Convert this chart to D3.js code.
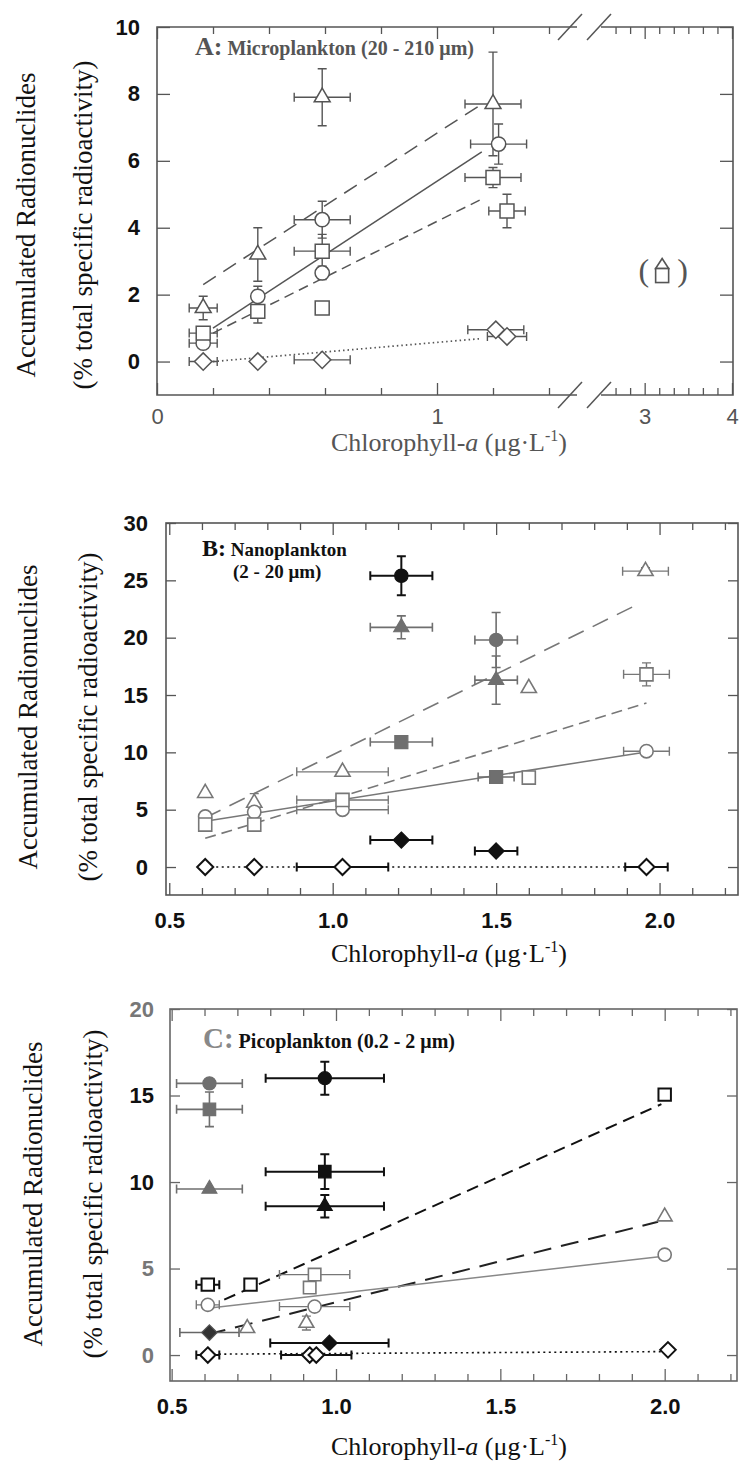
<!DOCTYPE html>
<html>
<head>
<meta charset="utf-8">
<script src="https://cdn.jsdelivr.net/npm/d3@7"></script>
<style>
body { margin: 0; background: #fff; }
svg { display: block; }
</style>
</head>
<body>
<div id="chart"></div>
<script>
// values are [x, y, xErr, yErr]

// ---- A: microplankton ----
var aYTicks = [0, 2, 4, 6, 8, 10];
var aXLabels = [0, 1, 3, 4];
var aTriangle = [[0.165, 1.6, 0.05, 0.35], [0.36, 3.2, 0, 0.8], [0.59, 7.9, 0.1, 0.85], [1.2, 7.7, 0.1, 1.55]];
var aCircle = [[0.165, 0.55, 0.05, 0], [0.36, 1.95, 0, 0.3], [0.59, 4.24, 0.1, 0.55], [0.59, 2.65, 0, 0.2], [1.22, 6.5, 0.1, 0.6]];
var aSquare = [[0.165, 0.85, 0.05, 0], [0.36, 1.5, 0, 0.35], [0.59, 3.3, 0.1, 0.5], [0.59, 1.6, 0, 0], [1.2, 5.5, 0.1, 0.3], [1.25, 4.5, 0.065, 0.5]];
var aDiamond = [[0.165, 0, 0.05, 0], [0.36, 0, 0, 0], [0.59, 0.05, 0.1, 0], [1.21, 0.95, 0.1, 0], [1.25, 0.75, 0.07, 0]];
// fitted lines [x0, y0, x1, y1]: triangles, circles, squares, diamonds
var aFits = [[0.165, 2.3, 1.17, 7.75], [0.2, 1.0, 1.16, 6.27], [0.2, 0.85, 1.17, 4.9], [0.2, 0, 1.15, 0.68]];
var aNote = [3.2, 2.75];

// ---- B: nanoplankton ----
var bYTicks = [0, 5, 10, 15, 20, 25, 30];
var bXLabels = [0.5, 1.0, 1.5, 2.0];
var bBlackCircle = [[1.21, 25.4, 0.095, 1.7]];
var bGreyCircle = [[1.5, 19.8, 0.065, 2.4]];
var bGreyTriangle = [[1.21, 20.9, 0.095, 1.0], [1.5, 16.3, 0.065, 2.1]];
var bGreySquare = [[1.21, 10.9, 0.095, 0.5], [1.5, 7.85, 0.055, 0]];
var bBlackDiamond = [[1.21, 2.35, 0.095, 0], [1.5, 1.4, 0.065, 0]];
var bOpenTriangle = [[0.61, 6.45, 0, 0], [0.76, 5.6, 0, 0.8], [1.03, 8.3, 0.14, 0], [1.6, 15.6, 0, 0], [1.957, 25.8, 0.07, 0.3]];
var bOpenCircle = [[0.61, 4.4, 0, 0], [0.76, 4.8, 0, 0], [1.03, 5.0, 0.14, 0], [1.96, 10.1, 0.07, 0]];
var bOpenSquare = [[0.61, 3.7, 0, 0], [0.76, 3.7, 0, 0], [1.03, 5.85, 0.14, 0], [1.6, 7.8, 0, 0], [1.96, 16.8, 0.07, 1.0]];
var bOpenDiamond = [[0.61, 0, 0, 0], [0.76, 0, 0, 0], [1.03, 0, 0.14, 0], [1.96, 0, 0.065, 0]];
var bFits = [[0.61, 4.3, 1.94, 23.0], [0.61, 4.0, 1.94, 9.95], [0.61, 2.5, 1.96, 14.3], [0.61, 0, 1.9, 0]];

// ---- C: picoplankton ----
var cYTicks = [0, 5, 10, 15, 20];
var cXLabels = [0.5, 1.0, 1.5, 2.0];
var cGreyCircle = [[0.615, 15.7, 0.1, 0]];
var cGreySquare = [[0.615, 14.2, 0.1, 1.0]];
var cGreyTriangle = [[0.615, 9.6, 0.1, 0]];
var cGreyDiamond = [[0.615, 1.3, 0.09, 0]];
var cBlackCircle = [[0.966, 16.0, 0.18, 0.95]];
var cBlackSquare = [[0.966, 10.6, 0.18, 1.0]];
var cBlackTriangle = [[0.966, 8.6, 0.18, 0.65]];
var cBlackDiamond = [[0.98, 0.7, 0.18, 0]];
var cOpenSquareBlack = [[0.61, 4.07, 0.035, 0], [0.74, 4.07, 0, 0], [2.0, 15.05, 0, 0]];
var cOpenSquareGrey = [[0.935, 4.65, 0.107, 0], [0.92, 3.9, 0, 0]];
var cOpenCircle = [[0.61, 2.9, 0.035, 0], [0.935, 2.8, 0.107, 0], [2.0, 5.8, 0, 0]];
var cOpenTriangle = [[0.73, 1.55, 0, 0], [0.91, 1.85, 0, 0.4], [2.0, 8.0, 0, 0]];
var cOpenDiamond = [[0.61, 0, 0.035, 0], [0.92, 0, 0, 0], [0.94, 0, 0.107, 0], [2.01, 0.3, 0, 0]];
var cFits = [[0.61, 1.2, 1.98, 7.7], [0.61, 2.7, 1.99, 5.7], [0.66, 3.2, 1.99, 14.5], [0.61, 0.05, 2.0, 0.2]];

// ---------- styles ----------
var openA = { fill: '#fff', stroke: '#555', sw: 1.5, bar: '#555', bw: 1.4 };
var greyOpen = { fill: '#fff', stroke: '#777', sw: 1.6, bar: '#777', bw: 1.4 };
var greyFill = { fill: '#6f6f6f', stroke: '#6f6f6f', sw: 1.2, bar: '#6f6f6f', bw: 1.6 };
var darkFill = { fill: '#333', stroke: '#555', sw: 1.2, bar: '#666', bw: 1.6 };
var blackFill = { fill: '#111', stroke: '#111', sw: 1.2, bar: '#111', bw: 2 };
var blackOpen = { fill: '#fff', stroke: '#111', sw: 2, bar: '#111', bw: 2 };

var diamond = {
    draw: function(ctx, size) {
        var r = Math.sqrt(size / 2);
        ctx.moveTo(0, -r); ctx.lineTo(r, 0); ctx.lineTo(0, r); ctx.lineTo(-r, 0); ctx.closePath();
    }
};
var shapes = { circle: d3.symbolCircle, square: d3.symbolSquare, triangle: d3.symbolTriangle, diamond: diamond };

var minorB = d3.range(6, 23).map(k => k / 10).filter(v => v * 10 % 5 !== 0);

var panels = [
    {
        box: { left: 157, right: 733, top: 27, bottom: 395 },
        x: d3.scaleLinear().domain([0, 1.5, 2.5, 4]).range([157, 577, 601, 732]),
        y: d3.scaleLinear().domain([-1, 10]).range([395, 27]),
        axisColor: '#555', broken: true,
        xMajor: aXLabels, xFmt: d3.format('d'),
        xMinor: [0.2, 0.4, 0.6, 0.8, 1.2, 1.4].concat(d3.range(1, 9).map(k => 2.5 + k / 6).filter(v => Math.abs(v - 3) > 0.01)),
        yTicks: aYTicks, yTickLen: 13, yPad: 17, xPad: 13,
        xLabelStyle: { fill: '#555', weight: 'normal' }, yLabelFill: () => '#111',
        sizes: { circle: 160, square: 195, triangle: 110, diamond: 150 },
        series: [
            { data: aTriangle, shape: 'triangle', st: openA },
            { data: aCircle, shape: 'circle', st: openA },
            { data: aSquare, shape: 'square', st: openA },
            { data: aDiamond, shape: 'diamond', st: openA }
        ],
        fits: aFits,
        fitStyles: [
            { dash: '15,9', color: '#555', w: 1.5 },
            { dash: null, color: '#555', w: 1.5 },
            { dash: '10,6', color: '#555', w: 1.5 },
            { dash: '1.5,3', color: '#555', w: 1.7 }
        ],
        yTitleX: [35, 92], yTitleCY: 225,
        xTitle: { y: 451, color: '#555' },
        title: function(g) {
            var t = g.append('text').attr('x', 195).attr('y', 55).attr('fill', '#555')
                .attr('font-family', '"Liberation Serif", "Times New Roman", serif').attr('font-weight', 'bold');
            t.append('tspan').attr('font-size', 26).text('A:');
            t.append('tspan').attr('font-size', 20).text(' Microplankton (20 - 210 μm)');
        }
    },
    {
        box: { left: 166, right: 738, top: 523, bottom: 895 },
        x: d3.scaleLinear().domain([0.49, 2.24]).range([166, 738]),
        y: d3.scaleLinear().domain([-2.44, 30]).range([895, 523]),
        axisColor: '#555',
        xMajor: bXLabels, xFmt: d3.format('.1f'), xMinor: minorB,
        yTicks: bYTicks, yTickLen: 10, yPad: 18, xPad: 17,
        xLabelStyle: { fill: '#111', weight: 'bold' }, yLabelFill: () => '#111',
        sizes: { circle: 140, square: 170, triangle: 100, diamond: 130 },
        series: [
            { data: bOpenTriangle, shape: 'triangle', st: greyOpen },
            { data: bOpenCircle, shape: 'circle', st: greyOpen },
            { data: bOpenSquare, shape: 'square', st: greyOpen },
            { data: bOpenDiamond, shape: 'diamond', st: blackOpen },
            { data: bGreyTriangle, shape: 'triangle', st: greyFill },
            { data: bGreySquare, shape: 'square', st: greyFill },
            { data: bGreyCircle, shape: 'circle', st: greyFill },
            { data: bBlackCircle, shape: 'circle', st: blackFill },
            { data: bBlackDiamond, shape: 'diamond', st: blackFill }
        ],
        fits: bFits,
        fitStyles: [
            { dash: '17,10', color: '#777', w: 1.6 },
            { dash: null, color: '#777', w: 1.5 },
            { dash: '11,6', color: '#777', w: 1.6 },
            { dash: '2,3.5', color: '#111', w: 1.6 }
        ],
        yTitleX: [37, 97], yTitleCY: 717,
        xTitle: { y: 962, color: '#111' },
        title: function(g) {
            var f = '"Liberation Serif", "Times New Roman", serif';
            var t = g.append('text').attr('x', 202).attr('y', 556).attr('fill', '#111')
                .attr('font-family', f).attr('font-weight', 'bold');
            t.append('tspan').attr('font-size', 24).text('B:');
            t.append('tspan').attr('font-size', 19).text(' Nanoplankton');
            g.append('text').attr('x', 233).attr('y', 578).attr('fill', '#111')
                .attr('font-family', f).attr('font-weight', 'bold').attr('font-size', 19).text('(2 - 20 μm)');
        }
    },
    {
        box: { left: 170, right: 737, top: 1009, bottom: 1381 },
        x: d3.scaleLinear().domain([0.495, 2.22]).range([170, 737]),
        y: d3.scaleLinear().domain([-1.5, 20]).range([1381, 1009]),
        axisColor: '#666',
        xMajor: cXLabels, xFmt: d3.format('.1f'), xMinor: minorB,
        yTicks: cYTicks, yTickLen: 10, yPad: 16, xPad: 17,
        xLabelStyle: { fill: '#111', weight: 'bold' },
        yLabelFill: d => (d === 10 || d === 15) ? '#111' : '#777',
        sizes: { circle: 135, square: 155, triangle: 95, diamond: 120 },
        series: [
            { data: cOpenTriangle, shape: 'triangle', st: greyOpen },
            { data: cOpenCircle, shape: 'circle', st: greyOpen },
            { data: cOpenSquareGrey, shape: 'square', st: greyOpen },
            { data: cOpenSquareBlack, shape: 'square', st: blackOpen },
            { data: cOpenDiamond, shape: 'diamond', st: blackOpen },
            { data: cGreyCircle, shape: 'circle', st: greyFill },
            { data: cGreySquare, shape: 'square', st: greyFill },
            { data: cGreyTriangle, shape: 'triangle', st: greyFill },
            { data: cGreyDiamond, shape: 'diamond', st: darkFill },
            { data: cBlackCircle, shape: 'circle', st: blackFill },
            { data: cBlackSquare, shape: 'square', st: blackFill },
            { data: cBlackTriangle, shape: 'triangle', st: blackFill },
            { data: cBlackDiamond, shape: 'diamond', st: blackFill }
        ],
        fits: cFits,
        fitStyles: [
            { dash: '18,10', color: '#222', w: 2 },
            { dash: null, color: '#888', w: 1.5 },
            { dash: '12,7', color: '#111', w: 2 },
            { dash: '2,3.5', color: '#111', w: 1.6 }
        ],
        yTitleX: [42, 102], yTitleCY: 1194,
        xTitle: { y: 1455, color: '#111' },
        title: function(g) {
            var f = '"Liberation Serif", "Times New Roman", serif';
            var t = g.append('text').attr('x', 203).attr('y', 1048)
                .attr('font-family', f).attr('font-weight', 'bold');
            t.append('tspan').attr('font-size', 29).attr('fill', '#888').text('C:');
            t.append('tspan').attr('font-size', 20).attr('fill', '#111').text(' Picoplankton (0.2 - 2 μm)');
        }
    }
];

var svg = d3.select('#chart').append('svg').attr('width', 740).attr('height', 1463);

function cleanAxis(sel, color) {
    sel.select('.domain').remove();
    sel.attr('font-family', null).attr('font-size', null);
    sel.selectAll('line').attr('stroke', color).attr('stroke-width', 1.3);
}

function drawAxes(g, p) {
    var b = p.box;
    [['bottom', b.bottom], ['top', b.top]].forEach(function(s) {
        var mk = s[0] === 'bottom' ? d3.axisBottom : d3.axisTop;
        g.append('g').attr('transform', `translate(0,${s[1]})`)
            .call(mk(p.x).tickValues(p.xMinor).tickSize(-7).tickFormat(''))
            .call(cleanAxis, p.axisColor);
        var maj = g.append('g').attr('transform', `translate(0,${s[1]})`)
            .call(mk(p.x).tickValues(p.xMajor).tickSize(-12).tickPadding(p.xPad)
                .tickFormat(s[0] === 'bottom' ? p.xFmt : ''))
            .call(cleanAxis, p.axisColor);
        maj.selectAll('text')
            .attr('font-family', '"Liberation Sans", Arial, sans-serif')
            .attr('font-size', 22)
            .attr('font-weight', p.xLabelStyle.weight)
            .attr('fill', p.xLabelStyle.fill);
    });
    var left = g.append('g').attr('transform', `translate(${b.left},0)`)
        .call(d3.axisLeft(p.y).tickValues(p.yTicks).tickSize(-p.yTickLen).tickPadding(p.yPad).tickFormat(d3.format('d')))
        .call(cleanAxis, p.axisColor);
    left.selectAll('text')
        .attr('font-family', '"Liberation Sans", Arial, sans-serif')
        .attr('font-size', 22).attr('font-weight', 'bold')
        .attr('fill', d => p.yLabelFill(d));
    g.append('g').attr('transform', `translate(${b.right},0)`)
        .call(d3.axisRight(p.y).tickValues(p.yTicks).tickSize(-p.yTickLen).tickFormat(''))
        .call(cleanAxis, p.axisColor);

    // frame
    if (p.broken) {
        var g1 = p.x(1.5), g2 = p.x(2.5);
        g.append('path')
            .attr('d', `M${g1},${b.top}H${b.left}V${b.bottom}H${g1}M${g2},${b.top}H${b.right}V${b.bottom}H${g2}`)
            .attr('fill', 'none').attr('stroke', p.axisColor).attr('stroke-width', 1.6);
        [b.top, b.bottom].forEach(function(yy) {
            [g1 - 7, g2 - 2].forEach(function(cx) {
                g.append('line').attr('x1', cx - 12).attr('y1', yy + 13).attr('x2', cx + 12).attr('y2', yy - 13)
                    .attr('stroke', p.axisColor).attr('stroke-width', 1.5);
            });
        });
    } else {
        g.append('rect').attr('x', b.left).attr('y', b.top)
            .attr('width', b.right - b.left).attr('height', b.bottom - b.top)
            .attr('fill', 'none').attr('stroke', p.axisColor).attr('stroke-width', 1.6);
    }
}

function drawPanel(p) {
    var g = svg.append('g');
    var x = p.x, y = p.y;
    drawAxes(g, p);

    // fitted lines
    g.selectAll(null).data(p.fits).enter().append('line')
        .attr('x1', d => x(d[0])).attr('y1', d => y(d[1]))
        .attr('x2', d => x(d[2])).attr('y2', d => y(d[3]))
        .attr('stroke', (d, i) => p.fitStyles[i].color)
        .attr('stroke-width', (d, i) => p.fitStyles[i].w)
        .attr('stroke-dasharray', (d, i) => p.fitStyles[i].dash);

    // error bars
    p.series.forEach(function(s) {
        g.append('g').selectAll('path').data(s.data).enter().append('path')
            .attr('d', function(d) {
                var cx = x(d[0]), cy = y(d[1]), out = '';
                if (d[2] > 0) {
                    var xl = x(d[0] - d[2]), xr = x(d[0] + d[2]);
                    out += `M${xl},${cy}H${xr}M${xl},${cy - 4.5}V${cy + 4.5}M${xr},${cy - 4.5}V${cy + 4.5}`;
                }
                if (d[3] > 0) {
                    var yt = y(d[1] + d[3]), yb = y(d[1] - d[3]);
                    out += `M${cx},${yt}V${yb}M${cx - 4.5},${yt}H${cx + 4.5}M${cx - 4.5},${yb}H${cx + 4.5}`;
                }
                return out || null;
            })
            .attr('fill', 'none').attr('stroke', s.st.bar).attr('stroke-width', s.st.bw);
    });

    // markers
    p.series.forEach(function(s) {
        g.append('g').selectAll('path').data(s.data).enter().append('path')
            .attr('transform', d => `translate(${x(d[0])},${y(d[1])})`)
            .attr('d', d3.symbol().type(shapes[s.shape]).size(p.sizes[s.shape]))
            .attr('fill', s.st.fill).attr('stroke', s.st.stroke).attr('stroke-width', s.st.sw);
    });

    // axis titles
    var serif = '"Liberation Serif", "Times New Roman", serif';
    ['Accumulated Radionuclides', '(% total specific radioactivity)'].forEach(function(txt, i) {
        g.append('text')
            .attr('transform', `translate(${p.yTitleX[i]},${p.yTitleCY}) rotate(-90)`)
            .attr('text-anchor', 'middle').attr('font-family', serif).attr('font-size', 27)
            .attr('fill', '#111').text(txt);
    });
    var xt = g.append('text').attr('x', 449).attr('y', p.xTitle.y).attr('text-anchor', 'middle')
        .attr('font-family', serif).attr('font-size', 26).attr('fill', p.xTitle.color);
    xt.append('tspan').text('Chlorophyll-');
    xt.append('tspan').attr('font-style', 'italic').text('a');
    xt.append('tspan').text(' (μg·L');
    xt.append('tspan').attr('font-size', 16).attr('dy', -10).text('-1');
    xt.append('tspan').attr('dy', 10).text(')');

    p.title(g);
}

panels.forEach(drawPanel);

// "(triangle over square)" note in panel A
(function() {
    var p = panels[0];
    var nx = p.x(aNote[0]), ny = p.y(aNote[1]);
    var g = svg.append('g').attr('transform', `translate(${nx},${ny})`);
    var serif = '"Liberation Serif", "Times New Roman", serif';
    g.append('text').attr('x', -13).attr('y', 11).attr('text-anchor', 'end')
        .attr('font-family', serif).attr('font-size', 32).attr('fill', '#555').text('(');
    g.append('text').attr('x', 15).attr('y', 11).attr('text-anchor', 'start')
        .attr('font-family', serif).attr('font-size', 32).attr('fill', '#555').text(')');
    g.append('path').attr('d', 'M-6.5,-1L0,-11L6.5,-1Z').attr('fill', '#fff').attr('stroke', '#555').attr('stroke-width', 1.6);
    g.append('rect').attr('x', -6.5).attr('y', -1).attr('width', 13).attr('height', 14)
        .attr('fill', '#fff').attr('stroke', '#555').attr('stroke-width', 1.6);
})();
</script>
</body>
</html>
